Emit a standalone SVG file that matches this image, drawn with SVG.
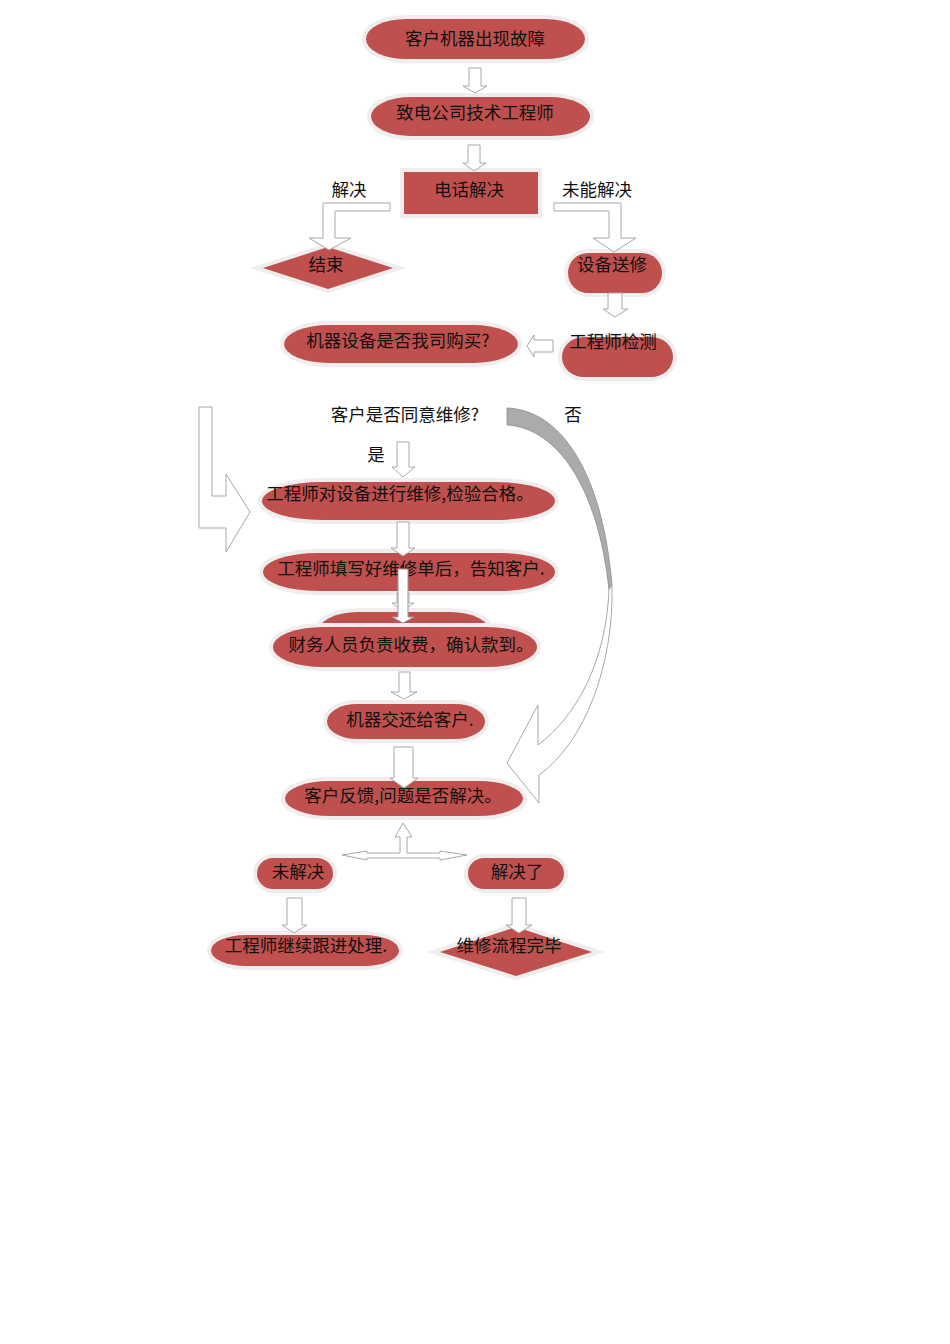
<svg xmlns="http://www.w3.org/2000/svg" width="950" height="1344" viewBox="0 0 950 1344">
<style>
.n{fill:#c0504d;stroke:#efeded;stroke-width:8;paint-order:stroke;}
.t{font-family:"Noto Sans CJK SC","Microsoft YaHei",sans-serif;font-size:17.5px;fill:#111;text-anchor:middle;}
.a{fill:#fff;stroke:#a8a8a8;stroke-width:1;}
.w{fill:#fff;stroke:#999;stroke-width:1;}
</style>
<rect width="950" height="1344" fill="#fff"/>
<g id="nodes">
<g id="n1"><rect class="n" x="366" y="19" width="219" height="40" rx="40" ry="20"/><text class="t" x="475" y="45">客户机器出现故障</text></g>
<g id="n2"><rect class="n" x="371" y="97" width="219" height="39" rx="40" ry="19.5"/><text class="t" x="475" y="119">致电公司技术工程师</text></g>
<g id="n3"><rect class="n" x="404" y="172" width="134" height="42"/><text class="t" x="469" y="196">电话解决</text></g>
<g id="n4"><polygon class="n" points="263,268 328,247 393,268 328,289"/><text class="t" x="326" y="271">结束</text></g>
<g id="n5"><rect class="n" x="568" y="253" width="94" height="40" rx="20" ry="20"/><text class="t" x="612" y="271">设备送修</text></g>
<g id="n6"><rect class="n" x="562" y="337" width="111" height="40" rx="22" ry="20"/><text class="t" x="613" y="348">工程师检测</text></g>
<g id="n7"><rect class="n" x="284" y="325" width="234" height="38" rx="45" ry="19"/><text class="t" x="398" y="347">机器设备是否我司购买?</text></g>
<g id="n8"><text class="t" x="405" y="421">客户是否同意维修?</text></g>
<g id="n9"><rect class="n" x="262" y="482" width="293" height="38" rx="60" ry="19"/><text class="t" x="400" y="500">工程师对设备进行维修,检验合格。</text></g>
<g id="n10"><rect class="n" x="263" y="553" width="292" height="38" rx="55" ry="19"/><text class="t" x="411" y="575">工程师填写好维修单后，告知客户.</text></g>
<g id="n11"><rect class="n" x="318" y="612" width="172" height="40" rx="40" ry="20"/></g>
<g id="n12"><rect class="n" x="273" y="627" width="264" height="40" rx="50" ry="20"/><text class="t" x="411" y="651">财务人员负责收费，确认款到。</text></g>
<g id="n13"><rect class="n" x="327" y="704" width="158" height="35" rx="30" ry="17.5"/><text class="t" x="410" y="726">机器交还给客户.</text></g>
<g id="n14"><rect class="n" x="285" y="781" width="238" height="35" rx="45" ry="17.5"/><text class="t" x="403" y="802">客户反馈,问题是否解决。</text></g>
<g id="n15"><rect class="n" x="257" y="858" width="76" height="31" rx="16" ry="15.5"/><text class="t" x="298" y="878">未解决</text></g>
<g id="n16"><rect class="n" x="468" y="858" width="96" height="31" rx="16" ry="15.5"/><text class="t" x="517" y="878">解决了</text></g>
<g id="n17"><rect class="n" x="211" y="935" width="188" height="31" rx="35" ry="15.5"/><text class="t" x="306" y="952">工程师继续跟进处理.</text></g>
<g id="n18"><polygon class="n" points="440,952 516,927 592,952 516,976"/><text class="t" x="509" y="952">维修流程完毕</text></g>
</g>
<g id="labels">
<text class="t" x="349" y="196">解决</text>
<text class="t" x="597" y="196">未能解决</text>
<text class="t" x="573" y="421">否</text>
<text class="t" x="376" y="461">是</text>
</g>
<g id="connectors">
<path class="a" d="M469,68 H481 V86 H487 L475,93 L463,86 H469 Z"/>
<path class="a" d="M468,145 H480 V163 H486 L474,171 L463,163 H468 Z"/>
<path class="a" d="M390,203 H323 V238 H309 L329,250 L351,238 H335 V211 H390 Z"/>
<path class="a" d="M554,203 H621 V238 H636 L614,252 L593,238 H609 V211 H554 Z"/>
<path class="a" d="M608,293 H622 V309 H628 L615,317 L603,309 H608 Z"/>
<path class="a" d="M553,340 V352 H534 V357 L527,346 L534,335 V340 Z"/>
<path class="a" d="M199,407 H212 V496 H226 V474 L250,512 L226,552 V528 H199 Z"/>
<path class="a" d="M397,442 H409 V467 H415 L403,477 L392,467 H397 Z"/>
<path class="a" d="M397,522 H409 V548 H415 L403,556 L391,548 H397 Z"/>
<path class="a" d="M397,593 H409 V603 H414 L403,611 L392,603 H397 Z"/>
<path class="w" d="M398,569 H408 V617 H414 L403,623 L392,617 H398 Z"/>
<path class="a" d="M399,672 H410 V692 H417 L404,699 L391,692 H399 Z"/>
<path class="a" d="M394,747 H413 V778 H418 L404,788 L390,778 H394 Z"/>
<path d="M507,408 C560,410 602,470 612,585 L609,590 C598,485 556,428 507,425 Z" fill="#ababab" stroke="#8c8c8c" stroke-width="0.8"/>
<path class="a" d="M612,585 C614,665 585,742 539,775 L539,803 L507,763 L538,705 L538,745 C578,715 606,660 609,590 Z"/>
<path class="a" d="M342,855 L367,851 V853 H400 V837 H395 L403,823 L412,837 H407 V853 H440 V851 L467,855 L440,860 V858 H367 V860 Z"/>
<path class="a" d="M287,898 H302 V925 H307 L294,933 L282,925 H287 Z"/>
<path class="a" d="M512,898 H526 V925 H532 L519,933 L506,925 H512 Z"/>
</g>
</svg>
